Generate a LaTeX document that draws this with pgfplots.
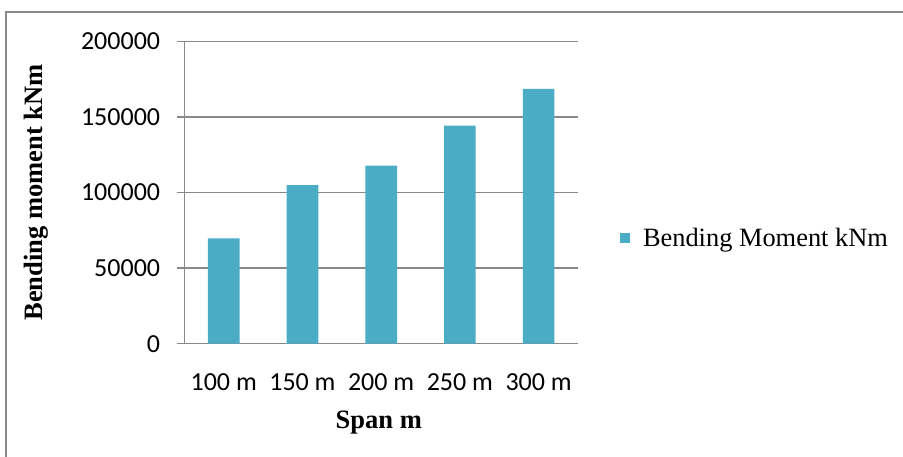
\documentclass[border=0pt]{standalone}
\usepackage{pgfplots}
\pgfplotsset{compat=1.18}
\usepackage{fontspec}
\setmainfont{Liberation Serif}
\newfontfamily\calib{Carlito}
\definecolor{barblue}{HTML}{4BACC6}
\definecolor{axgray}{HTML}{898989}
\begin{document}
\begin{tikzpicture}
\path[use as bounding box] (0,0) rectangle (903pt,-456pt);
% chart frame (only left and top edges inside the page)
\draw[axgray, line width=2pt] (6pt,-470pt) -- (6pt,-12pt) -- (920pt,-12pt);
\begin{axis}[
  at={(184.3pt,-343.7pt)}, anchor=south west,
  scale only axis, width=393.7pt, height=302.4pt,
  ybar, bar width=31.7pt,
  xmin=-0.5, xmax=4.5, ymin=0, ymax=200000,
  xtick={0,...,4},
  xticklabels={100 m,150 m,200 m,250 m,300 m},
  ytick={0,50000,100000,150000,200000},
  scaled y ticks=false,
  /pgf/number format/fixed,
  /pgf/number format/1000 sep={},
  /pgf/number format/assume math mode=true,
  axis x line*=bottom, axis y line*=left,
  axis line style={axgray, line width=1.3pt, -},
  ymajorgrids,
  grid style={axgray, line width=1.3pt},
  tick align=outside,
  major tick length=7.7pt,
  ytick style={axgray, line width=1.3pt},
  xtick style={draw=none},
  ticklabel style={font=\calib\fontsize{26}{26}\selectfont},
  yticklabel style={anchor=east, inner sep=0pt, xshift=-16.3pt},
  xticklabel style={anchor=base, inner sep=0pt, yshift=-39.5pt},
  xlabel={\textbf{Span m}},
  ylabel={\textbf{Bending moment kNm}},
  label style={font=\fontsize{26.5}{26.5}\selectfont},
  xlabel style={at={(axis description cs:0.494,-0.282)}, anchor=base, inner sep=0pt},
  ylabel style={at={(axis description cs:-0.376,0.5)}, anchor=center},
  legend style={at={(1.1067,0.3495)}, anchor=west, draw=none, fill=none,
    inner sep=0pt, column sep=13pt, nodes={inner sep=0pt},
    font=\fontsize{26.4}{26.4}\selectfont},
]
\addplot[fill=barblue, draw=none,
  legend image code/.code={\fill[barblue] (0pt,-4.9pt) rectangle (9.8pt,4.9pt);}]
  coordinates {(0,69700) (1,104800) (2,117800) (3,144300) (4,168500)};
\addlegendentry{Bending Moment kNm}
\end{axis}
\end{tikzpicture}
\end{document}
